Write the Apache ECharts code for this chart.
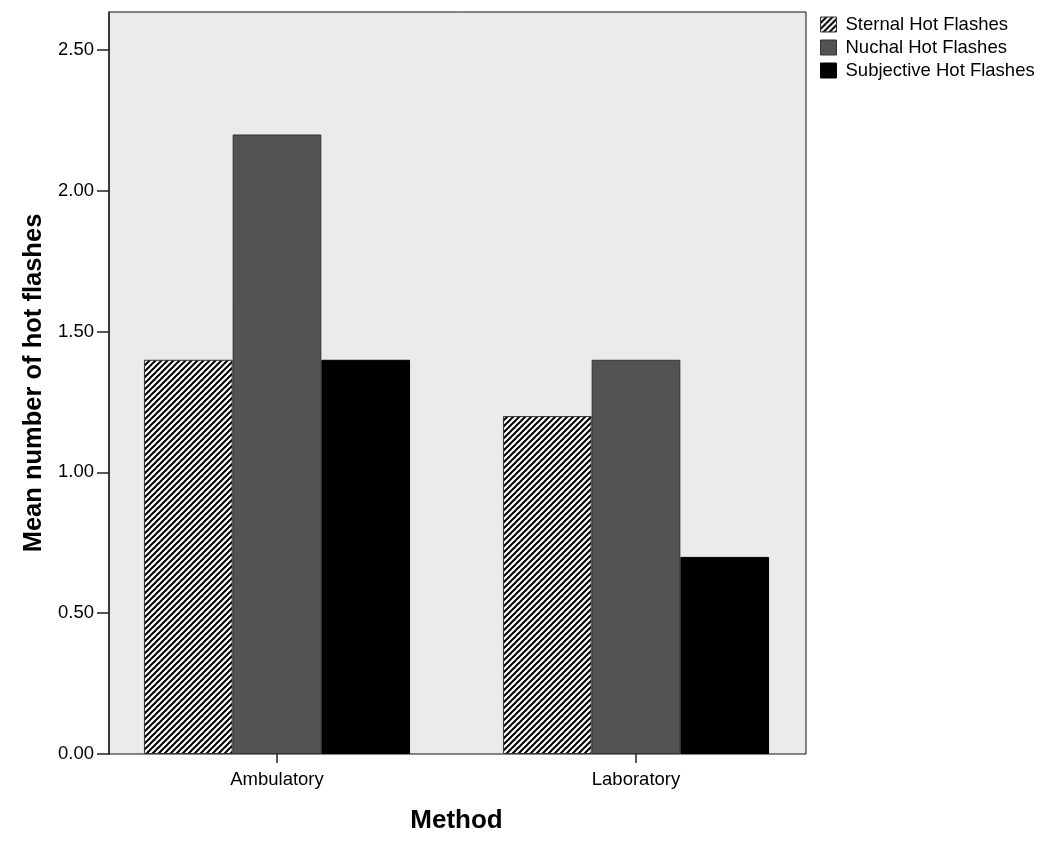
<!DOCTYPE html>
<html><head><meta charset="utf-8">
<script src="https://cdn.jsdelivr.net/npm/echarts@6/dist/echarts.min.js"></script>
<style>html,body{margin:0;padding:0;background:#fff}#c{width:1050px;height:856px}</style>
</head><body><div id="c"></div>
<script>
const categories = ['Ambulatory', 'Laboratory'];
const sternal = [1.40, 1.20];
const nuchal = [2.20, 1.40];
const subjective = [1.40, 0.70];
const yTicks = [0, 0.5, 1.0, 1.5, 2.0, 2.5];
const yMax = 2.635;

function hatch() {
  const s = 6;
  const c = document.createElement('canvas');
  c.width = s; c.height = s;
  const g = c.getContext('2d');
  g.fillStyle = '#fff'; g.fillRect(0, 0, s, s);
  g.strokeStyle = '#000'; g.lineWidth = 2;
  g.beginPath();
  g.moveTo(-1, s + 1); g.lineTo(s + 1, -1);
  g.moveTo(-1, 1); g.lineTo(1, -1);
  g.moveTo(s - 1, s + 1); g.lineTo(s + 1, s - 1);
  g.stroke();
  return { image: c, repeat: 'repeat' };
}
const pat = hatch();
const font = 'Liberation Sans, Arial, sans-serif';
const fs = 18.5;
const chart = echarts.init(document.getElementById('c'), null, { renderer: 'canvas' });
const common = { top: 12, bottom: 102 };
chart.setOption({
  animation: false,
  textStyle: { fontFamily: font },
  grid: [
    Object.assign({ left: 109, width: 697, show: true, backgroundColor: '#ebebeb', borderColor: '#111', borderWidth: 1 }, common),
    Object.assign({ left: 97.5, width: 718 }, common)
  ],
  legend: {
    orient: 'vertical', left: 815, top: 10, itemWidth: 16, itemHeight: 15, itemGap: 4,
    icon: 'rect',
    textStyle: { fontSize: fs, color: '#000', fontFamily: font, padding: [0, 0, 0, 4] },
    data: [
      { name: 'Sternal Hot Flashes', itemStyle: { color: pat, borderColor: '#333', borderWidth: 1 } },
      { name: 'Nuchal Hot Flashes', itemStyle: { color: '#535353', borderColor: '#333', borderWidth: 1 } },
      { name: 'Subjective Hot Flashes', itemStyle: { color: '#000', borderColor: '#000', borderWidth: 1 } }
    ]
  },
  xAxis: [
    { gridIndex: 0, type: 'value', min: 0, max: 1, show: false },
    {
      gridIndex: 1, type: 'category', data: categories,
      name: 'Method', nameLocation: 'middle', nameGap: 54,
      nameTextStyle: { fontSize: 26, fontWeight: 'bold', color: '#000', fontFamily: font },
      axisLine: { show: false },
      axisTick: { show: true, alignWithLabel: true, length: 9, lineStyle: { color: '#222', width: 1.5 } },
      axisLabel: { fontSize: fs, color: '#000', margin: 16, fontFamily: font }
    }
  ],
  yAxis: [
    {
      gridIndex: 0, type: 'value', min: 0, max: yMax, interval: 0.5,
      name: 'Mean number of hot flashes', nameLocation: 'middle', nameGap: 54,
      nameTextStyle: { fontSize: 25.5, fontWeight: 'bold', color: '#000', fontFamily: font },
      axisLine: { show: true, lineStyle: { color: '#222', width: 1.5 } },
      axisTick: { show: true, length: 12, lineStyle: { color: '#222', width: 1.5 } },
      splitLine: { show: false },
      axisLabel: { fontSize: fs, color: '#000', margin: 15, fontFamily: font,
        showMaxLabel: false,
        formatter: v => yTicks.some(t => Math.abs(t - v) < 1e-9) ? v.toFixed(2) : '' }
    },
    { gridIndex: 1, type: 'value', min: 0, max: yMax, show: false }
  ],
  series: [
    { name: 'Sternal Hot Flashes', type: 'bar', xAxisIndex: 1, yAxisIndex: 1, data: sternal,
      barWidth: 88.7, barGap: '0%', itemStyle: { color: pat, borderColor: '#333', borderWidth: 1 } },
    { name: 'Nuchal Hot Flashes', type: 'bar', xAxisIndex: 1, yAxisIndex: 1, data: nuchal,
      barWidth: 88.7, barGap: '0%', itemStyle: { color: '#535353', borderColor: '#333', borderWidth: 1 } },
    { name: 'Subjective Hot Flashes', type: 'bar', xAxisIndex: 1, yAxisIndex: 1, data: subjective,
      barWidth: 88.7, barGap: '0%', itemStyle: { color: '#000', borderColor: '#000', borderWidth: 1 } }
  ]
});
</script></body></html>
